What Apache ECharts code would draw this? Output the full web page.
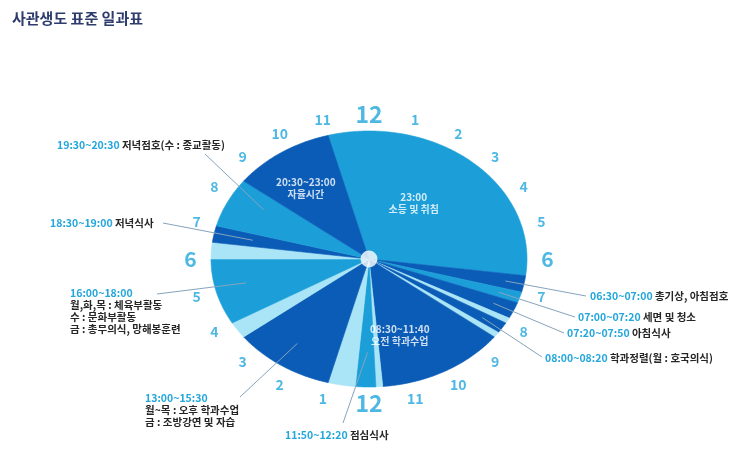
<!DOCTYPE html>
<html><head><meta charset="utf-8">
<script src="https://cdn.jsdelivr.net/npm/echarts@6/dist/echarts.min.js"></script>
<style>html,body{margin:0;padding:0;background:#fff}#c{width:743px;height:455px}</style>
</head><body><div id="c"></div>
<script>
// ---- data ----
var segStart = ["23:00","06:30","07:00","07:20","07:50","08:00","08:20","08:30","11:40","11:50","12:20","13:00","15:30","16:00","18:00","18:30","19:00","20:30"];
var segEnd   = ["06:30","07:00","07:20","07:50","08:00","08:20","08:30","11:40","11:50","12:20","13:00","15:30","16:00","18:00","18:30","19:00","20:30","23:00"];
var segTone  = ["mid","dark","mid","dark","pale","dark","pale","dark","pale","mid","pale","dark","pale","mid","pale","dark","mid","dark"];
var hourLabels = ["12","1","2","3","4","5","6","7","8","9","10","11","12","1","2","3","4","5","6","7","8","9","10","11"];
// labels inside slices: text, hour (angle), radius fraction
var innerText = ["23:00\n소등 및 취침","20:30~23:00\n자율시간","08:30~11:40\n오전 학과수업"];
var innerHour = [2.2, 21.6, 10.8];
var innerRad  = [0.52, 0.68, 0.63];
// annotations: time text, description lines, pointed hour & radius
var annTime = ["19:30~20:30","18:30~19:00","16:00~18:00","13:00~15:30","11:50~12:20","06:30~07:00","07:00~07:20","07:20~07:50","08:00~08:20"];
var annDesc = [["저녁점호(수 : 종교활동)"],["저녁식사"],["월,화,목 : 체육부활동","수 : 문화부활동","금 : 총무의식, 망해봉훈련"],["월~목 : 오후 학과수업","금 : 조방강연 및 자습"],["점심식사"],["총기상, 아침점호"],["세면 및 청소"],["아침식사"],["학과정렬(월 : 호국의식)"]];
var annHour = [20.0, 18.75, 17.1, 14.3, 12.05, 6.75, 7.17, 7.58, 8.17];
var annRad  = [0.77, 0.75, 0.8, 0.8, 0.73, 0.88, 0.86, 0.86, 0.85];

// ---- layout / style ----
var annLayout = [ // text left, text y (first line middle), line start x,y, multiline?
  {x:57, y:145, lx:205, ly:154},
  {x:50, y:223, lx:163, ly:223},
  {x:70, y:293, lx:157, ly:294},
  {x:145, y:398, lx:240, ly:397},
  {x:285, y:435, lx:343, ly:423},
  {x:590, y:296, lx:586, ly:296},
  {x:578, y:317, lx:575, ly:317},
  {x:567, y:333, lx:564, ly:333},
  {x:545, y:358, lx:542, ly:357}
];
var toneColor = {mid:"#1c9fd8", dark:"#0b5cb7", pale:"#aae5f7"};
var FONT = "'Noto Sans CJK KR','Noto Sans',sans-serif";
var CYAN = "#22a6dc";

function toH(s){ var p=s.split(":"); return +p[0] + (+p[1])/60; }
function ell(h, r){ var a=h/24*2*Math.PI; return [r*Math.sin(a), r*Math.cos(a)]; }

var segData = segStart.map(function(s,i){
  return [0,0,toH(s),toH(segEnd[i]),["mid","dark","pale"].indexOf(segTone[i])];
});
var toneArr = [toneColor.mid, toneColor.dark, toneColor.pale];

var hourData = hourLabels.map(function(l,i){
  var big = (i%6===0 && i%12===0) ? 23 : (i%6===0 ? 21 : 14);
  return {value: ell(i, 1.13), name:l, label:{fontSize:big}};
});
var innerData = innerText.map(function(t,i){ return {value: ell(innerHour[i], innerRad[i]), name:t}; });

var chart = echarts.init(document.getElementById('c'), null, {renderer:'canvas'});
var option = {
  animation:false,
  backgroundColor:'#fff',
  title:{text:'사관생도 표준 일과표', left:7, top:6, textStyle:{fontFamily:FONT, fontSize:15, fontWeight:'bold', color:'#2d3c6c'}},
  grid:{left:132, top:67, width:474, height:384},
  xAxis:{type:'value', min:-1.5, max:1.5, show:false},
  yAxis:{type:'value', min:-1.5, max:1.5, show:false},
  series:[
    {type:'custom', data:segData, encode:{x:0,y:1}, silent:true,
     renderItem:function(params, api){
       var s=api.value(2), e=api.value(3);
       if(e<=s) e+=24;
       var pts=[api.coord([0,0])];
       var steps=Math.max(2, Math.ceil((e-s)*30));
       for(var k=0;k<=steps;k++){
         var p=ell(s+(e-s)*k/steps, 1);
         pts.push(api.coord(p));
       }
       var c=toneArr[api.value(4)];
       return {type:'polygon', shape:{points:pts}, style:{fill:c, stroke:c, lineWidth:0.6}};
     }},
    {type:'scatter', data:hourData, symbolSize:0, silent:true,
     label:{show:true, position:'inside', formatter:'{b}', color:CYAN, fontFamily:FONT, fontWeight:'bold'}},
    {type:'scatter', data:innerData, symbolSize:0, silent:true, z:5,
     label:{show:true, position:'inside', formatter:'{b}', color:'#fff', fontFamily:FONT, fontSize:10, fontWeight:'bold', lineHeight:12}},
    {type:'scatter', data:[[0,0]], symbolSize:17, silent:true, z:6, itemStyle:{color:'#fff'}}
  ]
};
chart.setOption(option);

var graphics = [];
annTime.forEach(function(t,i){
  var L = annLayout[i];
  var txt = '{t|'+t+'}';
  if(annDesc[i].length===1 && i!==2 && i!==3){ txt += ' {d|'+annDesc[i][0]+'}'; }
  else { annDesc[i].forEach(function(d){ txt += '\n{d|'+d+'}'; }); }
  graphics.push({type:'text', x:L.x, y:L.y-6, z:10, silent:true,
    style:{text:txt, fontFamily:FONT, fontSize:10.5, lineHeight:12, verticalAlign:'top',
      rich:{t:{fill:CYAN, fontFamily:FONT, fontSize:10.5, fontWeight:'bold', lineHeight:12},
            d:{fill:'#262626', fontFamily:FONT, fontSize:10.5, fontWeight:'bold', lineHeight:12}}}});
  var end = chart.convertToPixel({gridIndex:0}, ell(annHour[i], annRad[i]));
  graphics.push({type:'line', z:9, silent:true, shape:{x1:L.lx, y1:L.ly, x2:end[0], y2:end[1]},
    style:{stroke:'#86a4bd', lineWidth:1}});
});
chart.setOption({graphic:graphics});
</script></body></html>
